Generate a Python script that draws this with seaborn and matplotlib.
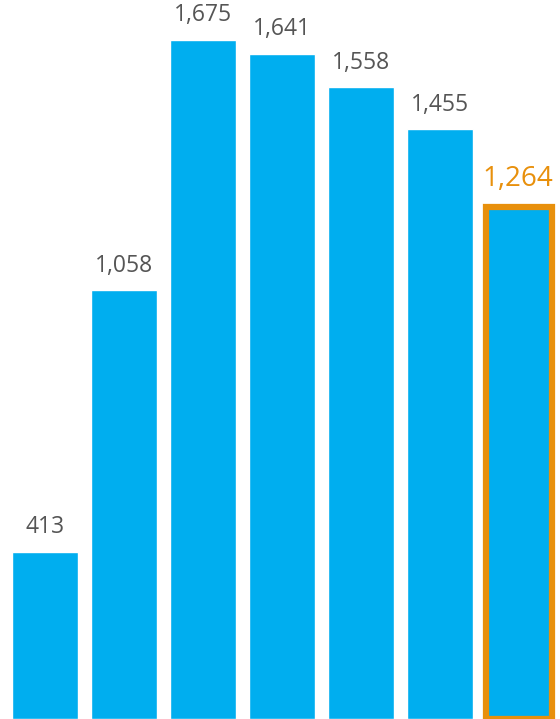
import matplotlib
matplotlib.use("Agg")
import matplotlib.pyplot as plt
import seaborn as sns
import pandas as pd

# =============================================
# データ
# =============================================
categories = ["1", "2", "3", "4", "5", "6", "7"]
values     = [413, 1058, 1675, 1641, 1558, 1455, 1264]

BLUE   = "#00AEEF"
ORANGE = "#E8900C"
GRAY   = "#555555"

sns.set_theme(style="white")
plt.rcParams['font.family'] = ['Open Sans', 'DejaVu Sans']

df = pd.DataFrame({"cat": categories, "val": values})

fig = plt.figure(figsize=(5.6, 7.19), dpi=100)
ax = fig.add_axes([0, 0, 1, 1])

sns.barplot(data=df, x="cat", y="val", color=BLUE, saturation=1,
            width=0.835, ax=ax)

# 最後のバーを強調
last = ax.patches[-1]
last.set_edgecolor(ORANGE)
last.set_linewidth(4.5)
last.set_clip_on(False)

for i, (p, v) in enumerate(zip(ax.patches, values)):
    x = p.get_x() + p.get_width() / 2
    if i == len(values) - 1:
        ax.annotate(f"{v:,}", (x, v), xytext=(-1, 10), textcoords="offset points",
                    ha="center", va="bottom", fontsize=20, color=ORANGE)
    else:
        ax.annotate(f"{v:,}", (x, v), xytext=(0, 9), textcoords="offset points",
                    ha="center", va="bottom", fontsize=16.5, color=GRAY)

ax.set_xlim(-0.57, 6.52)
ax.set_ylim(0, 1675 * 719 / 679)
ax.axis("off")

plt.savefig("out.png", dpi=100)
plt.close()
